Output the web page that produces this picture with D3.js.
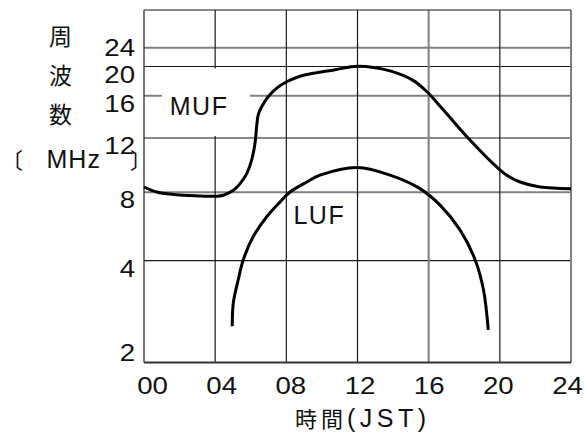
<!DOCTYPE html>
<html>
<head>
<meta charset="utf-8">
<script src="https://cdn.jsdelivr.net/npm/d3@7"></script>
<style>
  html, body { margin: 0; padding: 0; background: #fff; }
  svg { display: block; }
  text { font-family: "Liberation Sans", Arial, sans-serif; fill: #111; }
  .cjk { font-family: "Noto Sans CJK JP", "Noto Sans CJK SC", sans-serif; }
</style>
</head>
<body>
<svg id="chart" width="586" height="433"></svg>
<script>
// ---- data ----
const hourTicks = [0, 4, 8, 12, 16, 20, 24];
const hourTickLabels = ["00", "04", "08", "12", "16", "20", "24"];
const freqTicks = [2, 4, 8, 12, 16, 20, 24];
const freqTickLabels = ["2", "4", "8", "12", "16", "20", "24"];

const mufHour = [0, 0.71, 1.65, 2.59, 4.09, 4.46, 5.02, 5.4, 5.78, 6.05, 6.24, 6.33, 6.42, 6.62, 6.99, 7.46, 8.02, 8.77, 9.5, 10.74, 12.0, 13.83, 15.12, 15.89, 16.82, 18.32, 19.82, 20.39, 21.14, 22.26, 24];
const mufMHz  = [8.39, 8.02, 7.87, 7.81, 7.77, 7.83, 8.15, 8.64, 9.39, 10.37, 11.61, 13.08, 14.19, 14.98, 15.93, 17.03, 17.91, 18.67, 19.07, 19.56, 20.05, 19.4, 18.1, 16.57, 14.67, 11.85, 9.87, 9.26, 8.76, 8.39, 8.27];

const lufHour = [4.96, 5.02, 5.3, 5.58, 6.14, 6.9, 7.65, 8.21, 9.15, 9.89, 12.0, 13.83, 15.51, 16.64, 17.76, 18.61, 19.08, 19.35];
const lufMHz  = [2.71, 3.17, 3.63, 4.05, 5.41, 6.57, 7.44, 8.02, 8.76, 9.26, 9.83, 9.26, 8.27, 7.25, 5.8, 4.06, 3.43, 2.64];

// ---- layout ----
const W = 586, H = 433;
const margin = { top: 10, right: 15, bottom: 70.5, left: 144 };
const iw = W - margin.left - margin.right;
const ih = H - margin.top - margin.bottom;
// the printed frequency axis is neither linear nor logarithmic: piecewise positions (fraction of height)
const axisFrac = [0, 0.2888, 0.4828, 0.6369, 0.7569, 0.8397, 0.8931];

const svg = d3.select("#chart");
const g = svg.append("g").attr("transform", `translate(${margin.left},${margin.top})`);

const x = d3.scaleLinear().domain([0, 24]).range([0, iw]);
const y = d3.scaleLinear().domain(freqTicks).range(axisFrac.map(f => ih * (1 - f)));
// hour labels are printed on a slightly narrower span than the grid
const xLab = d3.scaleLinear().domain([0, 24]).range([x(0) + 8.5, x(24) - 3.5]);

const grayH = new Set([24, 16, 8]);
const grayV = new Set([16, 24]);

// horizontal grid
g.append("g").selectAll("line").data(freqTicks.slice(1)).join("line")
  .attr("x1", 0).attr("x2", iw)
  .attr("y1", d => y(d)).attr("y2", d => y(d))
  .attr("stroke", d => grayH.has(d) ? "#808080" : "#1a1a1a")
  .attr("stroke-width", d => grayH.has(d) ? 2 : 1.2);

// vertical grid
g.append("g").selectAll("line").data(hourTicks).join("line")
  .attr("x1", d => x(d)).attr("x2", d => x(d))
  .attr("y1", 0).attr("y2", ih)
  .attr("stroke", d => grayV.has(d) ? "#808080" : "#1a1a1a")
  .attr("stroke-width", d => grayV.has(d) ? 2 : 1.2);

// top and bottom borders
g.append("line").attr("x1", 0).attr("x2", iw).attr("y1", 0).attr("y2", 0)
  .attr("stroke", "#1a1a1a").attr("stroke-width", 1.2);
g.append("line").attr("x1", 0).attr("x2", iw).attr("y1", ih).attr("y2", ih)
  .attr("stroke", "#333").attr("stroke-width", 1.8);

// white box behind MUF label
g.append("rect")
  .attr("x", x(1.0)).attr("y", y(20) + 2)
  .attr("width", x(5.95) - x(1.0)).attr("height", y(12) - y(20) - 4)
  .attr("fill", "#fff");

// curves
const line = d3.line().x(d => x(d[0])).y(d => y(d[1])).curve(d3.curveCatmullRom.alpha(0.5));
g.append("path").datum(d3.zip(mufHour, mufMHz)).attr("d", line)
  .attr("fill", "none").attr("stroke", "#000").attr("stroke-width", 3);
g.append("path").datum(d3.zip(lufHour, lufMHz)).attr("d", line)
  .attr("fill", "none").attr("stroke", "#000").attr("stroke-width", 3);

// curve labels
g.append("text").attr("x", x(1.45)).attr("y", y(16) + 19.5)
  .attr("font-size", 25).attr("letter-spacing", "1.5px").text("MUF");
g.append("text").attr("x", x(8.4)).attr("y", y(8) + 32)
  .attr("font-size", 25).attr("letter-spacing", "1.5px").text("LUF");

// y tick labels (wide numerals)
const nF = freqTicks.length;
g.append("g").selectAll("text").data(freqTicks).join("text")
  .attr("transform", (d, i) => {
    const off = i === 0 ? -10 : (i === nF - 1 ? 0 : 8);
    return `translate(-9,${y(d) + off + 8}) scale(1.2,1)`;
  })
  .attr("text-anchor", "end").attr("font-size", 23)
  .text((d, i) => freqTickLabels[i]);

// x tick labels
g.append("g").selectAll("text").data(hourTicks).join("text")
  .attr("transform", d => `translate(${xLab(d)},${ih + 31}) scale(1.2,1)`)
  .attr("text-anchor", "middle").attr("font-size", 23)
  .text((d, i) => hourTickLabels[i]);

// y axis title (vertical)
const yTitle = ["周", "波", "数"];
svg.append("g").selectAll("text").data(yTitle).join("text")
  .attr("class", "cjk")
  .attr("x", 60.5).attr("y", (d, i) => 35 + i * 39)
  .attr("text-anchor", "middle").attr("dominant-baseline", "central")
  .attr("font-size", 23).text(d => d);
svg.append("text").attr("class", "cjk").attr("x", 1).attr("y", 168)
  .attr("font-size", 22).text("〔");
svg.append("text").attr("x", 46.5).attr("y", 168)
  .attr("font-size", 25).attr("letter-spacing", "1px").text("MHz");
svg.append("text").attr("class", "cjk").attr("x", 130).attr("y", 168)
  .attr("font-size", 22).text("〕");

// x axis title
svg.append("text").attr("class", "cjk").attr("x", 295).attr("y", 427)
  .attr("font-size", 22).attr("letter-spacing", "4px").text("時間");
svg.append("text").attr("x", 347).attr("y", 427)
  .attr("font-size", 25).attr("textLength", 79).attr("lengthAdjust", "spacing").text("(JST)");
</script>
</body>
</html>
